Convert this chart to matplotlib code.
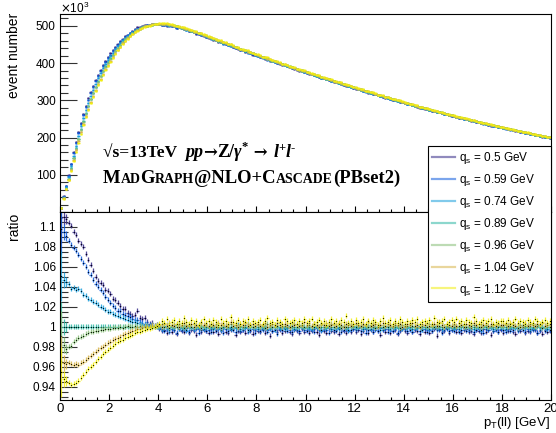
import numpy as np
import matplotlib.pyplot as plt
from matplotlib.lines import Line2D
from matplotlib.ticker import MultipleLocator, FormatStrFormatter

W, H = 556, 433
plt.rcParams['font.family'] = ['Liberation Sans', 'DejaVu Sans']

#-----DATA--------------------------------------------------------
bin_width = 0.1
n_bins = 200
qs_values = ['0.5', '0.59', '0.74', '0.89', '0.96', '1.04', '1.12']
colors = ['#352A87', '#0F5CDD', '#1A9FDC', '#2EB7A4', '#87BF77', '#D8B54C', '#F2EE10']
ref_q = '0.89'

# reference histogram (q_s = 0.89), events in thousands per 0.1 GeV bin
ref_counts_k = [
    10, 38, 64, 90, 118, 146, 172, 197, 222, 245,
    266, 286, 304, 321, 337, 352, 366, 379, 391, 402,
    413, 423, 432, 441, 449, 457, 464, 470, 476, 481,
    485.5, 489.5, 493, 496, 498.5, 500.5, 502, 503.3, 504.2, 504.8,
    505.0, 504.9, 504.5, 503.8, 502.8, 501.6, 500.2, 498.6, 496.9, 495.1,
    493.2, 491.2, 489.1, 486.9, 484.7, 482.4, 480.1, 477.7, 475.3, 472.9,
    470.4, 467.9, 465.4, 462.9, 460.4, 457.9, 455.4, 452.9, 450.4, 447.9,
    445.4, 442.9, 440.4, 437.9, 435.5, 433.1, 430.7, 428.3, 425.9, 423.5,
    421.1, 418.7, 416.3, 413.9, 411.5, 409.2, 406.9, 404.6, 402.3, 400.0,
    397.7, 395.4, 393.1, 390.8, 388.6, 386.4, 384.2, 382.0, 379.8, 377.6,
    375.4, 373.2, 371.0, 368.8, 366.6, 364.5, 362.4, 360.3, 358.2, 356.1,
    354.0, 351.9, 349.8, 347.7, 345.6, 343.5, 341.4, 339.3, 337.2, 335.1,
    333.0, 330.9, 328.9, 326.9, 324.9, 322.9, 320.9, 318.9, 316.9, 314.9,
    312.9, 310.9, 308.9, 306.9, 305.0, 303.1, 301.2, 299.3, 297.4, 295.5,
    293.6, 291.7, 289.8, 287.9, 286.0, 284.2, 282.4, 280.6, 278.8, 277.0,
    275.2, 273.4, 271.6, 269.9, 268.2, 266.5, 264.8, 263.1, 261.4, 259.7,
    258.0, 256.3, 254.6, 253.0, 251.4, 249.8, 248.2, 246.6, 245.0, 243.4,
    241.8, 240.2, 238.6, 237.1, 235.6, 234.1, 232.6, 231.1, 229.6, 228.1,
    226.6, 225.1, 223.6, 222.2, 220.8, 219.4, 218.0, 216.6, 215.2, 213.8,
    212.4, 211.0, 209.6, 208.2, 206.8, 205.4, 204.1, 202.8, 201.5, 200.2,
]

# ratio to reference, deviation in per mille, first 40 bins (0-4 GeV)
dev_low = {
    '0.5':  [109, 110, 108, 104, 101, 95, 92, 86, 83, 80, 73, 67, 62, 56, 50, 46, 44, 42, 37, 36,
             33, 28, 27, 24, 21, 18, 18, 14, 13, 11, 12, 16, 9, 8, 9, 5, 3, 4, 1, 2],
    '0.59': [98, 95, 91, 86, 82, 79, 76, 72, 68, 64, 60, 55, 52, 47, 43, 40, 37, 34, 30, 27,
             24, 21, 19, 16, 16, 13, 12, 11, 10, 8, 7, 7, 5, 4, 3, 3, 2, 1, 0, 1],
    '0.74': [51, 47, 45, 43, 38, 39, 37, 38, 36, 32, 31, 28, 27, 25, 24, 22, 20, 19, 17, 15,
             15, 13, 12, 11, 10, 9, 8, 7, 6, 5, 5, 4, 3, 2, 2, 1, 1, 0, 0, 0],
    '0.96': [-9, -18, -22, -20, -19, -15, -13, -11, -10, -9, -7, -6, -5, -5, -4, -4, -3, -3, -2, -2,
             -2, -1, -1, -1, 0, -1, 0, 1, 0, 0, 1, 0, 1, 0, 1, 1, 0, 2, 1, 2],
    '1.04': [-34, -36, -37, -36, -37, -38, -37, -38, -36, -35, -33, -31, -29, -27, -25, -23, -21, -20, -18, -16,
             -15, -13, -12, -11, -10, -8, -7, -6, -5, -4, -3, -2, -2, -1, 0, -1, 0, 1, 0, 1],
    '1.12': [-45, -52, -54, -56, -58, -57, -56, -54, -51, -48, -45, -42, -40, -38, -35, -32, -30, -27, -25, -23,
             -21, -19, -17, -15, -14, -13, -11, -10, -9, -8, -6, -5, -5, -4, -3, -2, -2, -1, 0, 1],
}

# ratio to reference, deviation in per mille, remaining 160 bins (4-20 GeV)
dev_tail = {
    '0.5': [-2, -4, -3, -6, -1, -5, -3, -7, -2, -4, -5, -1, -6, -3, -4, -8, -2, -5, -3, -4,
            -6, -2, -5, -3, -7, -4, -1, -5, -6, -3, -2, -8, -4, -5, -3, -6, -2, -4, -7, -3,
            -4, -5, -2, -6, -3, -9, -4, -2, -5, -3, -6, -4, -1, -5, -7, -3, -4, -6, -2, -5,
            -3, -6, -4, -2, -5, -8, -3, -4, -6, -1, -4, -5, -3, -7, -2, -4, -6, -3, -5, -2,
            -5, -3, -7, -4, -2, -6, -3, -5, -1, -4, -8, -3, -5, -2, -6, -4, -3, -7, -4, -2,
            -4, -6, -2, -5, -3, -4, -7, -2, -5, -3, -6, -4, -2, -9, -3, -5, -4, -1, -6, -3,
            -2, -5, -4, -6, -3, -2, -5, -4, -7, -3, -4, -6, -2, -5, -3, -8, -4, -2, -5, -3,
            -6, -3, -4, -2, -5, -7, -3, -4, -1, -6, -4, -5, -2, -3, -6, -4, -7, -3, -5, -4],
    '0.59': [-1, -3, -4, -2, -5, -2, -3, -6, -1, -3, -2, -4, -5, -1, -3, -2, -6, -3, -2, -4,
             -3, -5, -1, -4, -2, -3, -6, -2, -4, -1, -3, -5, -2, -4, -3, -1, -5, -3, -2, -6,
             -2, -4, -3, -1, -5, -2, -4, -3, -7, -2, -3, -1, -4, -3, -5, -2, -3, -4, -1, -3,
             -4, -2, -3, -5, -1, -3, -4, -2, -3, -6, -2, -3, -4, -1, -5, -3, -2, -4, -3, -2,
             -3, -1, -4, -2, -6, -3, -2, -5, -3, -4, -1, -3, -2, -5, -3, -4, -2, -6, -3, -1,
             -2, -4, -3, -5, -2, -1, -4, -3, -2, -5, -3, -4, -1, -3, -2, -6, -3, -2, -4, -3,
             -4, -2, -5, -3, -1, -4, -3, -2, -5, -3, -2, -4, -6, -2, -3, -1, -4, -3, -5, -2,
             -3, -5, -2, -4, -3, -1, -4, -2, -3, -5, -2, -4, -3, -2, -6, -3, -1, -4, -2, -3],
    '0.74': [0, -2, 1, -1, -3, 0, -1, 2, -2, -1, 0, -3, 1, -1, -2, 0, -1, 1, -2, 0,
             -1, 1, -2, 0, -1, -3, 0, 1, -1, -2, 0, -1, 2, -2, -1, 0, -3, 1, 0, -1,
             -2, 0, -1, 1, -2, -1, 0, -3, 1, -1, 0, -2, -1, 1, 0, -2, -1, 0, 2, -1,
             0, -1, -2, 1, 0, -1, -3, 0, -1, 1, -2, 0, -1, -2, 1, 0, -1, -3, 0, 1,
             -1, 0, 1, -2, -1, 0, -2, 1, -1, 0, -3, -1, 0, 1, -2, -1, 0, -1, 2, -2,
             1, -1, 0, -2, 0, -1, 1, -3, 0, -1, -2, 0, 1, -1, 0, -2, -1, 1, 0, -1,
             -1, 0, -2, 1, -1, 0, -1, 2, -2, 0, -1, -3, 0, 1, -1, 0, -2, -1, 1, 0,
             0, -2, 1, -1, 0, -1, -2, 0, 1, -1, 0, -2, -1, 0, 2, -1, 0, -1, -2, 0],
    '0.96': [1, 3, 0, 2, -1, 1, 2, 0, 3, 1, -1, 2, 1, 0, 3, 1, 2, -1, 1, 2,
             0, 2, 1, 3, 0, -1, 2, 1, 0, 3, 1, 2, -1, 1, 0, 2, 3, 1, 0, 1,
             2, 0, 1, -1, 3, 1, 0, 2, 1, 4, 0, 1, 2, -1, 1, 3, 0, 2, 1, 0,
             1, 2, 0, 3, 1, -1, 2, 0, 1, 2, 3, 0, 1, 2, -1, 1, 0, 3, 2, 1,
             3, 1, 0, 2, 1, 0, 2, 3, -1, 1, 2, 0, 1, 3, 1, 0, 2, 1, -1, 2,
             0, 1, 3, 1, 0, 2, -1, 1, 2, 0, 3, 1, 0, 2, 1, 4, 0, 1, 2, 1,
             2, 0, 1, 2, 3, 0, 1, -1, 2, 1, 0, 3, 1, 2, 0, 1, 2, 0, 3, 1,
             1, 2, 0, 1, 3, 1, -1, 2, 0, 1, 2, 1, 3, 0, 1, 2, -1, 1, 2, 0],
    '1.04': [2, 0, 3, 1, 4, 2, 1, 3, 0, 2, 4, 1, 2, 3, 0, 2, 1, 4, 2, 3,
             1, 3, 2, 0, 4, 2, 3, 1, 2, 5, 1, 2, 0, 3, 2, 4, 1, 2, 3, 1,
             3, 1, 2, 4, 0, 2, 3, 1, 4, 2, 1, 3, 2, 0, 4, 2, 3, 1, 2, 5,
             2, 4, 1, 3, 2, 0, 3, 2, 4, 1, 2, 3, 1, 4, 2, 0, 3, 2, 1, 3,
             4, 2, 1, 3, 2, 5, 1, 2, 3, 0, 2, 4, 1, 3, 2, 1, 4, 2, 3, 0,
             1, 3, 2, 4, 1, 2, 0, 3, 2, 4, 1, 2, 3, 1, 5, 2, 0, 3, 2, 1,
             3, 1, 4, 2, 0, 3, 2, 1, 4, 2, 3, 0, 2, 4, 1, 3, 2, 1, 3, 2,
             2, 3, 1, 4, 2, 1, 3, 0, 2, 4, 1, 3, 2, 1, 3, 2, 4, 1, 2, 3],
    '1.12': [3, 6, 4, 8, 2, 5, 7, 3, 6, 4, 9, 5, 3, 7, 4, 6, 2, 5, 8, 4,
             6, 3, 7, 5, 2, 8, 4, 6, 3, 10, 5, 4, 7, 3, 6, 5, 8, 2, 6, 4,
             5, 7, 3, 6, 9, 4, 5, 2, 7, 5, 3, 8, 6, 4, 5, 7, 3, 6, 4, 8,
             4, 6, 8, 3, 5, 7, 4, 6, 2, 5, 8, 4, 6, 3, 7, 5, 11, 4, 6, 3,
             7, 4, 5, 8, 3, 6, 4, 7, 5, 2, 6, 9, 4, 5, 7, 3, 6, 4, 8, 5,
             3, 6, 4, 7, 5, 8, 3, 5, 6, 4, 7, 3, 9, 5, 4, 6, 8, 3, 5, 7,
             5, 8, 4, 6, 3, 7, 5, 4, 10, 6, 3, 5, 7, 4, 6, 8, 3, 5, 4, 6,
             6, 4, 7, 3, 5, 8, 4, 6, 5, 3, 7, 5, 4, 8, 6, 3, 5, 7, 4, 6],
}

# ratio stat. error in per mille: first bins, then the rest
err_first = [25, 8, 5]
err_rest = 2.5
#-----/DATA-------------------------------------------------------

x = np.arange(n_bins) * bin_width + bin_width / 2
ref = np.array(ref_counts_k, dtype=float)
err = np.full(n_bins, err_rest)
err[:len(err_first)] = err_first
err = err / 1000.0

ratios = {}
for q in qs_values:
    if q == ref_q:
        ratios[q] = np.ones(n_bins)
    else:
        ratios[q] = 1 + np.array(dev_low[q] + dev_tail[q]) / 1000.0

fig = plt.figure(figsize=(W / 100, H / 100), dpi=100)
ax = fig.add_axes([60 / W, 1 - 212 / H, 491 / W, 198 / H])
axr = fig.add_axes([60 / W, 1 - 400 / H, 491 / W, 188 / H])

for q, col in zip(qs_values, colors):
    counts = ref * ratios[q]
    ax.errorbar(x, counts, xerr=bin_width / 2, fmt='none', ecolor=col, elinewidth=1.0)
    ax.plot(x, counts, 's', ms=1.8, color=col, mec='none')

    axr.errorbar(x, ratios[q], xerr=bin_width / 2, yerr=err, fmt='none',
                 ecolor=col, elinewidth=0.9, alpha=0.85)
    axr.plot(x, ratios[q], '.', ms=1.6, color='k', mec='none')

# axes cosmetics (ROOT-like)
for a in (ax, axr):
    a.set_xlim(0, 20)
    a.xaxis.set_major_locator(MultipleLocator(2))
    a.xaxis.set_minor_locator(MultipleLocator(0.5))
    a.tick_params(axis='y', which='major', direction='in', length=12, width=0.8,
                  labelsize=8.5, pad=3, color='#333333')
    a.tick_params(axis='y', which='minor', direction='in', length=6, width=0.8, color='#333333')
    a.tick_params(axis='x', which='major', direction='in', length=4.5, width=0.8,
                  labelsize=9.5, pad=2.5)
    a.tick_params(axis='x', which='minor', direction='in', length=2.5, width=0.8)
    for s in a.spines.values():
        s.set_linewidth(0.8)

ax.set_ylim(0, 532)
ax.yaxis.set_minor_locator(MultipleLocator(20))
ax.set_yticks([100, 200, 300, 400, 500])
ax.tick_params(axis='x', labelbottom=False)

axr.set_ylim(0.9267, 1.1147)
axr.set_yticks([0.94, 0.96, 0.98, 1.0, 1.02, 1.04, 1.06, 1.08, 1.1])
axr.yaxis.set_minor_locator(MultipleLocator(0.005))
axr.yaxis.set_major_formatter(FormatStrFormatter('%g'))

# labels
fig.text(60 / W, 1 - 8 / H, r'$\times$10$^\mathregular{3}$', fontsize=8.5, ha='left', va='center')
fig.text(14 / W, 1 - 13 / H, 'event number', rotation=90, ha='center', va='top', fontsize=10)
fig.text(14 / W, 1 - 213 / H, 'ratio', rotation=90, ha='center', va='top', fontsize=10)
fig.text(550 / W, 1 - 415 / H, r'p$_\mathregular{T}$(ll) [GeV]', ha='right', va='top', fontsize=9.5)

# physics annotation, drawn run by run (serif bold, italics, superscripts, small caps)
renderer = fig.canvas.get_renderer()
serif = ['Liberation Serif', 'DejaVu Serif']
arrowfont = ['DejaVu Serif']


def draw_runs(x0, y0, runs):
    xp = x0
    for txt, size, style, dy, fam in runs:
        t = fig.text(xp / W, 1 - (y0 - dy) / H, txt, fontsize=size, family=fam,
                     weight='bold', style=style, ha='left', va='baseline')
        xp += t.get_window_extent(renderer).width


line1 = [('\u221as=13TeV  ', 12.5, 'normal', 0, serif), ('pp', 13, 'italic', 0, serif),
         ('\u2192', 12, 'normal', 0, arrowfont), ('Z/', 13, 'normal', 0, serif),
         ('\u03b3', 13, 'italic', 0, serif), ('*', 9, 'normal', 7, serif),
         (' \u2192 ', 12, 'normal', 0, arrowfont), ('l', 13, 'italic', 0, serif),
         ('+', 9, 'normal', 6, serif), ('l', 13, 'italic', 0, serif),
         ('-', 9, 'normal', 6, serif)]
draw_runs(103, 157, line1)

big, small = 13.4, 10.0
line2 = [('M', big, 'normal', 0, serif), ('AD', small, 'normal', 0, serif),
         ('G', big, 'normal', 0, serif), ('RAPH', small, 'normal', 0, serif),
         ('@NLO+C', big, 'normal', 0, serif), ('ASCADE', small, 'normal', 0, serif),
         ('(PBset2)', big, 'normal', 0, serif)]
draw_runs(103, 183, line2)

# legend spanning both pads
handles = [Line2D([], [], color=c, lw=1.6, alpha=0.55) for c in colors]
labels = [r'q$_\mathregular{s}$ = %s GeV' % q for q in qs_values]
leg = fig.legend(handles, labels, loc='upper left',
                 bbox_to_anchor=(428 / W, 1 - 146 / H, 123 / W, 0), mode='expand',
                 fontsize=8.5, handlelength=1.9, handletextpad=0.35, labelspacing=0.5,
                 borderpad=0.35, borderaxespad=0, frameon=True, fancybox=False,
                 edgecolor='k', framealpha=1)
leg.get_frame().set_linewidth(0.8)

fig.savefig('out.png', dpi=100)
